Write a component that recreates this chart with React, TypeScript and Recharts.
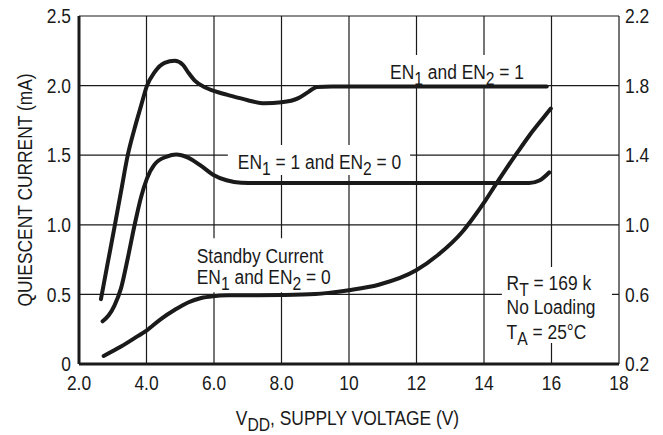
import React from "react";
import { LineChart, Line, XAxis, YAxis, CartesianGrid, ReferenceArea, Label } from "recharts";

const FONT = "'Liberation Sans', Arial, Helvetica, sans-serif";
const INK = "#1a1a1a";
const FS = 20;
const SUB_FS = 18;
const SUB_DY = 6;
const SX = 0.87;

// Axis ticks
const xTicks = [2, 4, 6, 8, 10, 12, 14, 16, 18];
const xTickLabels = ["2.0", "4.0", "6.0", "8.0", "10", "12", "14", "16", "18"];
const leftTicks = [0, 0.5, 1.0, 1.5, 2.0, 2.5];
const leftTickLabels = ["0", "0.5", "1.0", "1.5", "2.0", "2.5"];
const rightTicks = [0.2, 0.6, 1.0, 1.4, 1.8, 2.2];
const rightTickLabels = ["0.2", "0.6", "1.0", "1.4", "1.8", "2.2"];

// EN1 and EN2 = 1
const bothOnVdd = [2.65, 2.85, 3.05, 3.246, 3.445, 3.644, 3.84, 4.01, 4.24, 4.536, 4.834, 5.08, 5.23, 5.43, 5.726, 5.973, 6.45, 7.0, 7.5, 8.0, 8.5, 8.8, 9.05, 9.5, 12.0, 15.86];
const bothOnMa = [0.466, 0.724, 0.982, 1.24, 1.5, 1.69, 1.856, 1.996, 2.097, 2.164, 2.178, 2.149, 2.097, 2.036, 1.988, 1.964, 1.93, 1.895, 1.873, 1.88, 1.91, 1.955, 1.99, 1.993, 1.993, 1.993];

// EN1 = 1 and EN2 = 0
const en1OnlyVdd = [2.7, 2.88, 3.05, 3.246, 3.445, 3.644, 3.84, 4.01, 4.24, 4.6, 4.88, 5.23, 5.62, 5.97, 6.37, 6.8, 7.5, 15.34, 15.64, 15.93];
const en1OnlyMa = [0.307, 0.35, 0.42, 0.545, 0.76, 0.995, 1.2, 1.33, 1.434, 1.49, 1.505, 1.483, 1.423, 1.36, 1.32, 1.302, 1.3, 1.3, 1.318, 1.376];

// Standby current, EN1 and EN2 = 0
const standbyVdd = [2.73, 3.246, 3.74, 4.01, 4.435, 4.83, 5.23, 5.62, 5.97, 6.42, 7.0, 8.0, 9.0, 9.39, 10.0, 10.88, 11.99, 12.66, 13.36, 13.65, 14.03, 14.35, 14.65, 14.99, 15.34, 15.73, 15.98];
const standbyMa = [0.058, 0.125, 0.2, 0.242, 0.325, 0.388, 0.442, 0.474, 0.487, 0.493, 0.494, 0.496, 0.503, 0.511, 0.53, 0.569, 0.673, 0.788, 0.95, 1.04, 1.17, 1.29, 1.4, 1.52, 1.64, 1.76, 1.835];

const toPoints = (xs: number[], ys: number[]) => xs.map((v, i) => ({ v, i: ys[i] }));

type Seg = { t: string; sub?: boolean };

const noteBothOn: Seg[][] = [[{ t: "EN" }, { t: "1", sub: true }, { t: " and EN" }, { t: "2", sub: true }, { t: " = 1" }]];
const noteEn1Only: Seg[][] = [[{ t: "EN" }, { t: "1", sub: true }, { t: " = 1 and EN" }, { t: "2", sub: true }, { t: " = 0" }]];
const noteStandby: Seg[][] = [
  [{ t: "Standby Current" }],
  [{ t: "EN" }, { t: "1", sub: true }, { t: " and EN" }, { t: "2", sub: true }, { t: " = 0" }],
];
const noteConditions: Seg[][] = [
  [{ t: "R" }, { t: "T", sub: true }, { t: " = 169 k" }],
  [{ t: "No Loading" }],
  [{ t: "T" }, { t: "A", sub: true }, { t: " = 25°C" }],
];

const renderSegs = (segs: Seg[]) => {
  const out: React.ReactNode[] = [];
  let lowered = false;
  segs.forEach((s, k) => {
    if (s.sub) {
      out.push(
        <tspan key={k} dy={lowered ? 0 : SUB_DY} fontSize={SUB_FS}>
          {s.t}
        </tspan>
      );
      lowered = true;
    } else {
      out.push(
        <tspan key={k} dy={lowered ? -SUB_DY : 0}>
          {s.t}
        </tspan>
      );
      lowered = false;
    }
  });
  return out;
};

// Condensed text: Liberation Sans squeezed horizontally
const NText = ({ x, y, anchor = "start", rotate = 0, dy = 0, children }: any) => (
  <text
    transform={`translate(${x},${y})${rotate ? ` rotate(${rotate})` : ""} scale(${SX},1)`}
    x={0}
    y={dy}
    textAnchor={anchor}
    fill={INK}
    fontSize={FS}
    fontFamily={FONT}
  >
    {children}
  </text>
);

const makeNote = (lines: Seg[][], padX: number, firstBase: number, gap: number) => (props: any) => {
  const vb = props.viewBox || {};
  const x0 = vb.x ?? 0;
  const y0 = vb.y ?? 0;
  return (
    <g>
      {lines.map((segs, li) => (
        <NText key={li} x={x0 + padX} y={y0 + firstBase + li * gap}>
          {renderSegs(segs)}
        </NText>
      ))}
    </g>
  );
};

const xTitle = (props: any) => {
  const vb = props.viewBox || {};
  const cx = (vb.x ?? 0) + (vb.width ?? 0) / 2 - 1.5;
  const y = (vb.y ?? 0) + 61;
  return (
    <NText x={cx} y={y} anchor="middle">
      {renderSegs([{ t: "V" }, { t: "DD", sub: true }, { t: ", SUPPLY VOLTAGE (V)" }])}
    </NText>
  );
};

const yTitle = (props: any) => {
  const vb = props.viewBox || {};
  const cy = (vb.y ?? 0) + (vb.height ?? 0) / 2;
  return (
    <NText x={31.5} y={cy} anchor="middle" rotate={-90}>
      QUIESCENT CURRENT (mA)
    </NText>
  );
};

const makeTick = (ticks: number[], labels: string[], kind: "x" | "left" | "right") => (props: any) => {
  const { x, y, payload } = props;
  const idx = ticks.findIndex((t) => Math.abs(t - payload.value) < 1e-9);
  const label = idx >= 0 ? labels[idx] : String(payload.value);
  if (kind === "x") {
    return (
      <NText x={x} y={y} anchor="middle" dy={14.2}>
        {label}
      </NText>
    );
  }
  return (
    <NText x={x} y={y} anchor={kind === "left" ? "end" : "start"} dy={7.1}>
      {label}
    </NText>
  );
};

export default function App() {
  return (
    <div style={{ position: "absolute", left: 0, top: 0, width: 663, height: 435, background: "#fff" }}>
      <LineChart width={663} height={435} margin={{ top: 16, right: 0, bottom: 0, left: 0 }}>
        <CartesianGrid stroke={INK} strokeWidth={1.2} />
        <XAxis
          type="number"
          dataKey="v"
          domain={[2, 18]}
          ticks={xTicks}
          height={71}
          tickSize={0}
          tickMargin={12}
          tickLine={false}
          axisLine={{ stroke: INK, strokeWidth: 3 }}
          tick={makeTick(xTicks, xTickLabels, "x")}
          allowDataOverflow
        >
          <Label content={xTitle} />
        </XAxis>
        <YAxis
          type="number"
          domain={[0, 2.5]}
          ticks={leftTicks}
          width={79}
          tickSize={0}
          tickMargin={8}
          tickLine={false}
          axisLine={{ stroke: INK, strokeWidth: 3 }}
          tick={makeTick(leftTicks, leftTickLabels, "left")}
          allowDataOverflow
        >
          <Label content={yTitle} />
        </YAxis>
        <YAxis
          yAxisId="right"
          orientation="right"
          type="number"
          domain={[0.2, 2.2]}
          ticks={rightTicks}
          width={44}
          tickSize={0}
          tickMargin={6}
          tickLine={false}
          axisLine={false}
          tick={makeTick(rightTicks, rightTickLabels, "right")}
          allowDataOverflow
        />
        <ReferenceArea x1={11.04} x2={15.36} y1={2.0} y2={2.22} fill="#fff" fillOpacity={1} stroke="none" label={makeNote(noteBothOn, 6, 24.3, 0)} />
        <ReferenceArea x1={6.41} x2={11.81} y1={1.358} y2={1.573} fill="#fff" fillOpacity={1} stroke="none" label={makeNote(noteEn1Only, 10, 24.3, 0)} />
        <ReferenceArea x1={5.38} x2={9.6} y1={0.515} y2={0.903} fill="#fff" fillOpacity={1} stroke="none" label={makeNote(noteStandby, 3.7, 24.2, 21.8)} />
        <ReferenceArea x1={14.53} x2={17.79} y1={0.15} y2={0.696} fill="#fff" fillOpacity={1} stroke="none" label={makeNote(noteConditions, 4.7, 22.6, 24.4)} />
        <Line data={toPoints(bothOnVdd, bothOnMa)} dataKey="i" type="monotone" stroke={INK} strokeWidth={4} strokeLinecap="round" dot={false} activeDot={false} isAnimationActive={false} />
        <Line data={toPoints(en1OnlyVdd, en1OnlyMa)} dataKey="i" type="monotone" stroke={INK} strokeWidth={4} strokeLinecap="round" dot={false} activeDot={false} isAnimationActive={false} />
        <Line data={toPoints(standbyVdd, standbyMa)} dataKey="i" type="monotone" stroke={INK} strokeWidth={4} strokeLinecap="round" dot={false} activeDot={false} isAnimationActive={false} />
      </LineChart>
    </div>
  );
}
